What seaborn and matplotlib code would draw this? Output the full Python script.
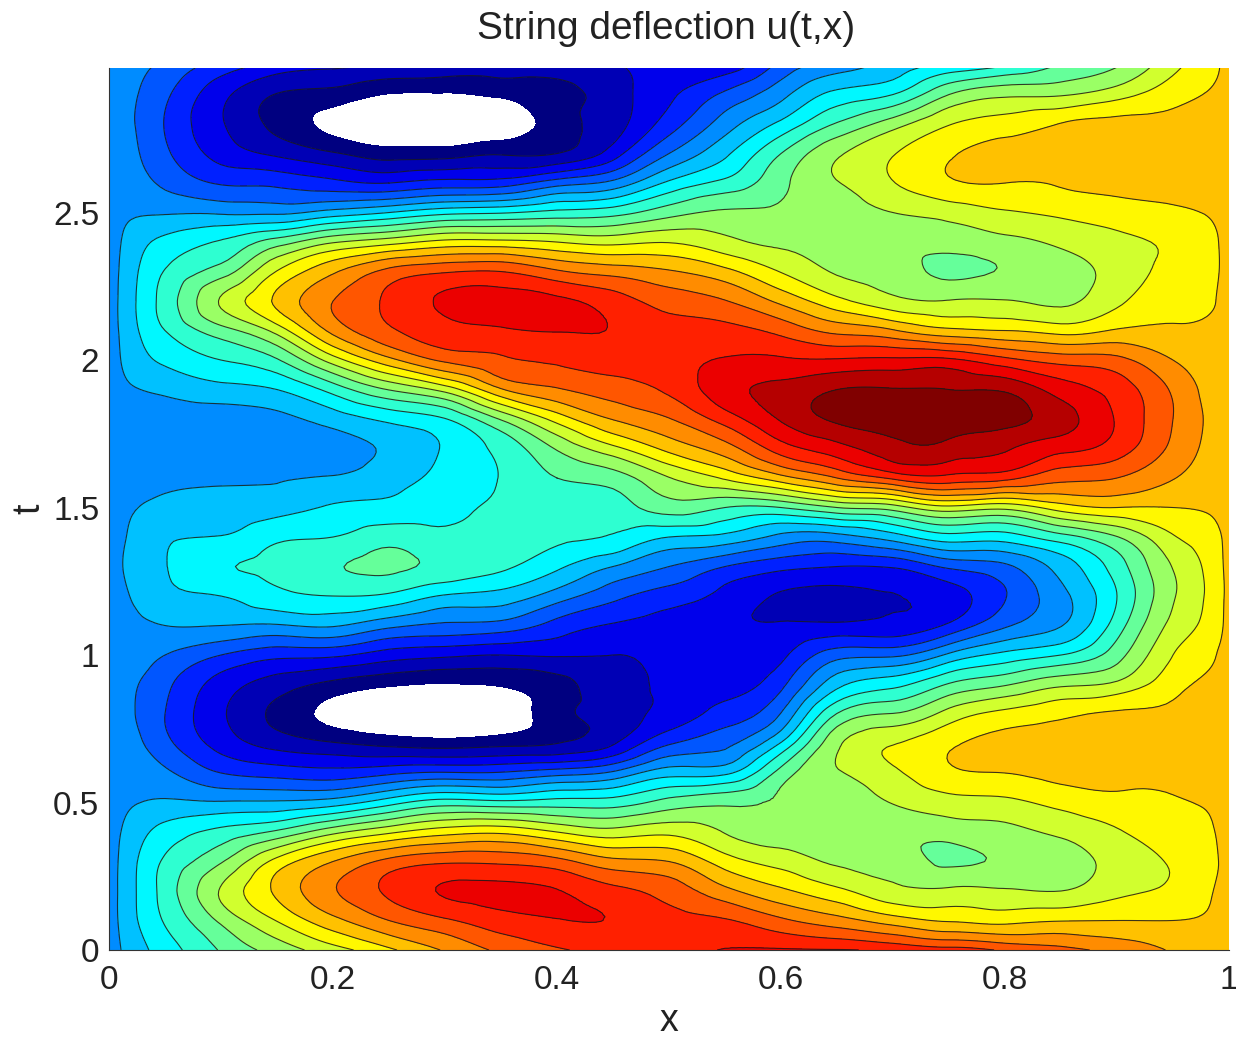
import numpy as np
import matplotlib
matplotlib.use("Agg")
import matplotlib.pyplot as plt
import matplotlib.tri as mtri
import seaborn as sns

x_pos = [0, .02, .05, .1, .15, .2, .25, .3, .35, .4, .45, .5, .55, .6, .65, .7, .75, .8, .85, .9, .95, .98, 1]
t_pos = [i / 10 for i in range(31)]

u00 = [5.5] * 31
u02 = [6.4,6.7,6.75,6.7,6.4,5.9,5.5,5.3,5.1,5.15,5.5,5.7,6.05,6.25,6.15,5.9,5.5,5.4,5.4,5.9,6.4,6.65,6.75,6.65,6.4,5.85,5.4,5.2,5.1,5.15,5.3]
u05 = [7.5,8.1,8.4,8.15,7.4,6.15,5.2,4.3,4.0,4.25,5.0,6.0,6.8,6.95,6.85,6.3,5.7,5.4,5.5,6.2,7.2,8.0,8.4,8.05,7.3,5.9,4.8,4.2,3.95,4.2,4.8]
u10 = [9.1,10.2,11.1,9.9,8.3,6.1,4.0,2.6,2.15,2.55,4.0,6.0,7.0,7.9,7.05,6.4,5.8,5.3,5.5,6.65,8.0,9.6,11.1,9.5,8.1,5.85,3.9,2.6,2.1,2.3,3.6]
u15 = [10.4,12.05,13.2,12.35,9.2,6.15,3.6,1.6,0.75,1.5,3.3,5.9,7.7,8.3,7.8,6.6,5.9,5.35,5.7,7.0,8.9,11.4,13.2,12.05,9.5,5.8,3.75,1.8,0.7,0.95,2.6]
u20 = [11.6,13.7,14.9,14.0,10.7,6.5,3.4,1.1,-0.35,0.7,3.2,6.1,8.0,8.9,8.0,7.1,6.1,5.5,6.45,8.4,11.5,14.3,15.0,13.85,10.9,6.4,3.3,1.1,-0.3,0.6,2.2]
u25 = [12.8,15.0,16.2,15.3,11.8,7.6,3.8,0.7,-1.0,0.15,2.5,5.25,7.8,9.2,8.6,7.3,6.6,6.2,7.25,10.05,13.7,15.85,16.2,15.3,11.6,7.0,3.0,0.5,-1.0,-0.05,2.0]
u30 = [14.1,15.85,17.1,15.85,12.6,8.5,4.1,0.5,-1.1,-0.05,2.2,4.8,6.9,8.75,8.3,7.7,7.3,7.1,7.95,11.4,15.2,16.7,17.15,15.9,12.3,7.7,3.4,0.55,-1.05,-0.1,1.7]
u35 = [15.2,16.6,17.25,15.8,12.8,8.3,4.1,0.7,-0.7,0.1,2.0,4.6,6.6,8.2,8.35,8.15,8.05,8.3,10.1,13.9,15.85,16.9,17.3,16.0,12.3,7.9,3.5,0.9,-0.7,0.2,1.5]
u40 = [15.9,16.95,17.05,15.35,12.0,8.45,4.6,1.0,0.6,0.65,2.1,3.6,5.5,7.2,8.2,8.4,9.0,10.1,12.4,14.9,16.15,17.05,17.2,15.15,12.0,8.3,4.55,1.0,0.55,0.6,1.7]
u45 = [16.3,16.95,16.3,14.3,11.4,8.5,5.2,1.9,1.55,1.6,2.0,2.9,4.3,6.0,7.9,8.5,9.5,11.7,14.05,15.5,16.5,16.95,16.5,14.6,11.7,8.6,5.3,2.5,1.55,1.55,1.9]
u50 = [16.7,16.35,15.6,14.0,11.75,9.4,6.6,3.9,2.35,2.2,2.3,2.6,3.5,5.0,7.0,9.5,10.95,13.3,14.95,16.2,16.6,16.4,15.6,14.1,11.95,9.6,7.2,5.0,3.5,2.8,2.4]
u55 = [17.03,16.1,14.3,12.5,10.95,9.8,6.8,4.75,3.4,2.6,2.2,2.15,2.7,4.0,6.7,9.0,12.15,14.55,16.45,17.6,17.1,16.3,15.05,13.3,11.3,10.15,8.3,6.8,5.5,4.2,2.3]
u60 = [17.1,15.2,13.2,11.6,10.5,10.15,9.4,7.1,5.05,3.75,2.75,2.08,1.9,3.3,5.7,9.0,13.6,16.5,18.1,18.3,17.15,15.7,13.75,11.95,10.8,10.2,9.75,9.0,7.25,5.7,4.3]
u65 = [17.05,14.4,12.25,10.85,10.45,10.4,10.9,10.8,9.05,6.7,4.6,2.2,1.7,3.0,5.6,10.0,15.0,17.6,19.2,19.0,17.1,14.7,12.3,10.9,10.6,10.55,10.95,10.85,9.1,7.3,5.4]
u70 = [16.8,13.5,11.3,10.6,10.35,11.05,11.8,11.95,10.05,7.7,4.8,2.3,1.98,3.1,6.5,10.5,16.2,18.6,19.5,19.05,17.2,14.1,11.3,10.45,10.35,11.0,11.95,11.95,10.55,8.0,6.4]
u75 = [16.4,12.9,11.2,9.85,10.4,11.6,12.8,12.85,11.4,9.1,6.2,3.2,2.5,4.2,7.6,11.7,16.65,18.6,19.6,19.0,17.2,13.25,11.05,9.8,10.35,11.4,12.85,12.85,11.95,10.0,7.2]
u80 = [15.85,12.7,11.1,10.2,10.7,11.75,13.0,13.3,12.3,9.9,7.3,4.85,3.95,4.8,7.5,11.3,16.3,18.1,19.4,18.85,16.3,13.0,11.05,10.1,10.7,11.9,13.0,13.4,12.45,10.8,7.9]
u85 = [15.3,12.95,11.0,10.5,11.2,12.3,13.3,13.4,12.8,10.8,8.0,5.95,5.7,6.4,8.6,12.5,15.3,17.3,18.4,17.55,15.6,12.6,10.8,10.5,11.2,12.2,13.1,13.4,13.05,10.9,9.1]
u90 = [14.7,13.0,11.75,11.4,11.9,12.7,13.3,13.35,13.15,11.25,9.6,8.5,8.0,8.5,9.95,13.0,15.0,16.5,16.9,16.55,15.3,13.1,11.8,11.4,11.75,12.5,13.3,13.5,13.3,11.6,9.9]
u95 = [13.9,13.0,12.2,12.1,12.5,12.9,13.2,13.3,13.2,12.65,12.0,11.3,10.9,11.05,11.9,13.0,14.05,14.75,15.0,14.85,14.0,13.15,12.65,12.3,12.15,12.8,13.3,13.4,13.3,12.6,11.7]
u98 = [13.65,13.1,12.85,12.7,12.85,13.1,13.45,13.45,13.4,13.15,12.8,12.3,12.1,12.2,12.55,13.1,13.55,13.8,13.9,13.75,13.55,13.2,12.85,12.7,12.7,13.05,13.35,13.45,13.45,13.05,12.6]
u100 = [13.3] * 31

band_colors = ["#000080", "#0000B5", "#0000EB", "#0020FF", "#0056FF", "#008CFF", "#00C1FF",
               "#00F8FF", "#2EFFD1", "#65FF9A", "#9AFF65", "#D1FF2E", "#FFF800", "#FFC100",
               "#FF8C00", "#FF5600", "#FF2000", "#EB0000", "#B50000", "#800000"]
x_ticks = [0, 0.2, 0.4, 0.6, 0.8, 1]
x_labels = ["0", "0.2", "0.4", "0.6", "0.8", "1"]
t_ticks = [0, 0.5, 1, 1.5, 2, 2.5]
t_labels = ["0", "0.5", "1", "1.5", "2", "2.5"]

sns.set_theme(style="white")
plt.rcParams["font.family"] = ["Liberation Sans", "DejaVu Sans"]

U = np.column_stack([u00, u02, u05, u10, u15, u20, u25, u30, u35, u40, u45, u50, u55, u60,
                     u65, u70, u75, u80, u85, u90, u95, u98, u100])
X, T = np.meshgrid(x_pos, t_pos)

# matplotlib's own cubic refiner gives the rounded contour lines of the reference
grid = mtri.Triangulation(X.ravel(), T.ravel())
fine_grid, fine_u = mtri.UniformTriRefiner(grid).refine_field(U.ravel(), subdiv=3)

fig = plt.figure(figsize=(12.36, 10.37), dpi=100)
ax = fig.add_axes([109 / 1236, 1 - 950 / 1037, 1120 / 1236, 882 / 1037])
ax.tricontourf(fine_grid, fine_u, levels=np.arange(0, 21), colors=sns.color_palette(band_colors))
ax.tricontour(fine_grid, fine_u, levels=np.arange(1, 20), colors="#1a1a1a", linewidths=0.8, alpha=0.85)
ax.set_xlim(0, 1)
ax.set_ylim(0, 2.99)
ax.set_xticks(x_ticks, x_labels)
ax.set_yticks(t_ticks, t_labels)
ax.tick_params(length=0, labelsize=24, colors="#222222")
ax.tick_params(axis="x", pad=11)
ax.tick_params(axis="y", pad=7)
ax.set_xlabel("x", fontsize=27, color="#222222", labelpad=5)
ax.set_ylabel("t", fontsize=27, color="#222222", labelpad=4)
ax.set_title("String deflection u(t,x)", fontsize=28, color="#222222", pad=21, x=0.497)
sns.despine(ax=ax, top=True, right=True)
for s in ("left", "bottom"):
    ax.spines[s].set_linewidth(0.8)
    ax.spines[s].set_color("#333333")
fig.savefig("out.png", dpi=100)
